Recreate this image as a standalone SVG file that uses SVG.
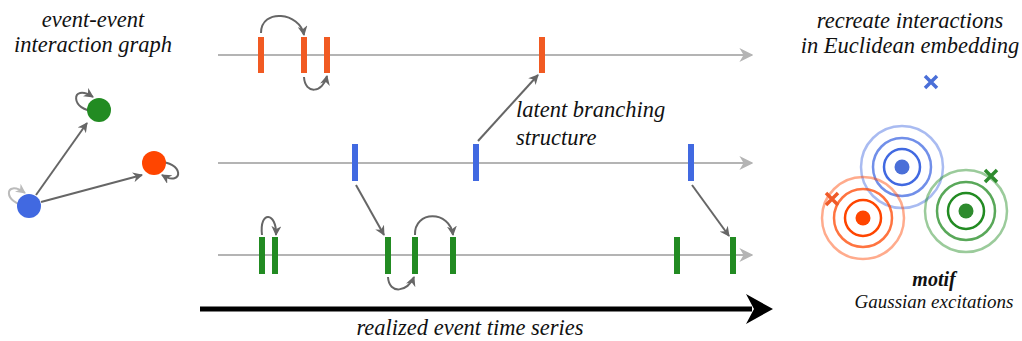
<svg xmlns="http://www.w3.org/2000/svg" width="1022" height="341" viewBox="0 0 1022 341">
<defs>
<style>
text{font-family:'Liberation Serif','DejaVu Serif',serif;font-style:italic;fill:#111;}
.t{font-size:22.5px;}
.axis{stroke:#b4b4b4;stroke-width:2;fill:none;}
.arr{stroke:#666;stroke-width:2;fill:none;marker-end:url(#ah);}
.tickO{fill:#f15a22;}
.tickB{fill:#4169e1;}
.tickG{fill:#228b22;}
.ring{fill:none;stroke-width:2.5;}
</style>
<marker id="ah" viewBox="0 0 10 10" refX="9" refY="5" markerWidth="5" markerHeight="5" orient="auto" markerUnits="strokeWidth">
<path d="M0,0 L10,5 L0,10 L3,5 Z" fill="#666"/>
</marker>
<marker id="ahl" viewBox="0 0 10 10" refX="9" refY="5" markerWidth="5" markerHeight="5" orient="auto" markerUnits="strokeWidth">
<path d="M0,0 L10,5 L0,10 L3,5 Z" fill="#bbb"/>
</marker>
<marker id="axh" viewBox="0 0 10 10" refX="9" refY="5" markerWidth="7" markerHeight="7" orient="auto" markerUnits="strokeWidth">
<path d="M0,0 L10,5 L0,10 L3,5 Z" fill="#b4b4b4"/>
</marker>
</defs>

<g id="graph-title">
<text class="t" x="93" y="27" text-anchor="middle">event-event</text>
<text class="t" x="93" y="52" text-anchor="middle">interaction graph</text>
</g>

<g id="connectors">
<line class="arr" x1="36" y1="195" x2="87" y2="123"/>
<line class="arr" x1="41" y1="202" x2="142" y2="175"/>
<path class="arr" d="M96 111 C70 112 70 82 93 97"/>
<path class="arr" d="M156 162 C185 160 184 188 162 175"/>
<path d="M28 206 C2 204 4 178 25 193" stroke="#bbb" stroke-width="2" fill="none" marker-end="url(#ahl)"/>

<line class="axis" x1="218" y1="55" x2="752" y2="55" marker-end="url(#axh)"/>
<line class="axis" x1="218" y1="163" x2="752" y2="163" marker-end="url(#axh)"/>
<line class="axis" x1="218" y1="255" x2="752" y2="255" marker-end="url(#axh)"/>

<path class="arr" d="M261 33 C261 8 300 12 304 35"/>
<path class="arr" d="M304 77 C305 95 323 93 327 76"/>
<line class="arr" x1="478" y1="141" x2="538" y2="75"/>
<line class="arr" x1="356" y1="185" x2="384" y2="235"/>
<line class="arr" x1="692" y1="185" x2="729" y2="236"/>
<path class="arr" d="M262 235 C259 210 277 212 276 235"/>
<path class="arr" d="M388 277 C389 295 408 292 414 277"/>
<path class="arr" d="M415 235 C414 210 450 210 453 235"/>

<line x1="200" y1="309" x2="752" y2="309" stroke="#000" stroke-width="5"/>
<path d="M746 294 L773 309 L746 324 L754 309 Z" fill="#000"/>
</g>

<g id="node-green"><circle cx="99" cy="110" r="12" fill="#228b22"/></g>
<g id="node-orange"><circle cx="154" cy="163" r="12" fill="#ff4500"/></g>
<g id="node-blue"><circle cx="29" cy="206" r="12" fill="#4169e1"/></g>

<g id="ticks">
<rect class="tickO" x="258" y="37" width="6" height="36"/>
<rect class="tickO" x="301" y="37" width="6" height="36"/>
<rect class="tickO" x="324" y="37" width="6" height="36"/>
<rect class="tickO" x="539" y="37" width="6" height="36"/>
<rect class="tickB" x="352" y="144" width="6" height="37"/>
<rect class="tickB" x="473" y="144" width="6" height="37"/>
<rect class="tickB" x="688" y="144" width="6" height="37"/>
<rect class="tickG" x="259" y="237" width="6" height="37"/>
<rect class="tickG" x="272" y="237" width="6" height="37"/>
<rect class="tickG" x="385" y="237" width="6" height="37"/>
<rect class="tickG" x="412" y="237" width="6" height="37"/>
<rect class="tickG" x="450" y="237" width="6" height="37"/>
<rect class="tickG" x="674" y="237" width="6" height="37"/>
<rect class="tickG" x="730" y="237" width="6" height="37"/>
</g>

<g id="labels">
<text class="t" x="516" y="117">latent branching</text>
<text class="t" x="516" y="145">structure</text>
<text class="t" x="470" y="335" text-anchor="middle">realized event time series</text>
<text class="t" x="910" y="28" text-anchor="middle">recreate interactions</text>
<text class="t" x="910" y="53" text-anchor="middle">in Euclidean embedding</text>
<text x="934" y="286" text-anchor="middle" font-size="20" font-weight="bold">motif</text>
<text x="934" y="308" text-anchor="middle" font-size="19">Gaussian excitations</text>
</g>

<g id="embed-blue">
<circle class="ring" cx="902" cy="167" r="41" stroke="#4169e1" stroke-opacity="0.45"/>
<circle class="ring" cx="902" cy="167" r="29" stroke="#4169e1" stroke-opacity="0.75"/>
<circle class="ring" cx="902" cy="167" r="18" stroke="#4169e1"/>
<circle cx="902" cy="167" r="7.5" fill="#4a6fd8"/>
<path d="M925 76 L937 88 M937 76 L925 88" stroke="#4a6fd8" stroke-width="3.5"/>
</g>
<g id="embed-orange">
<circle class="ring" cx="863" cy="218" r="41" stroke="#ff4500" stroke-opacity="0.45"/>
<circle class="ring" cx="863" cy="218" r="29" stroke="#ff4500" stroke-opacity="0.75"/>
<circle class="ring" cx="863" cy="218" r="18" stroke="#ff4500"/>
<circle cx="863" cy="218" r="7.5" fill="#ff4500"/>
<path d="M826 193 L838 205 M838 193 L826 205" stroke="#f05a28" stroke-width="3.5"/>
</g>
<g id="embed-green">
<circle class="ring" cx="966" cy="211" r="41" stroke="#228b22" stroke-opacity="0.45"/>
<circle class="ring" cx="966" cy="211" r="29" stroke="#228b22" stroke-opacity="0.75"/>
<circle class="ring" cx="966" cy="211" r="18" stroke="#228b22"/>
<circle cx="966" cy="211" r="7.5" fill="#2e8b2e"/>
<path d="M985 170 L997 182 M997 170 L985 182" stroke="#2e8b2e" stroke-width="3.5"/>
</g>
</svg>
